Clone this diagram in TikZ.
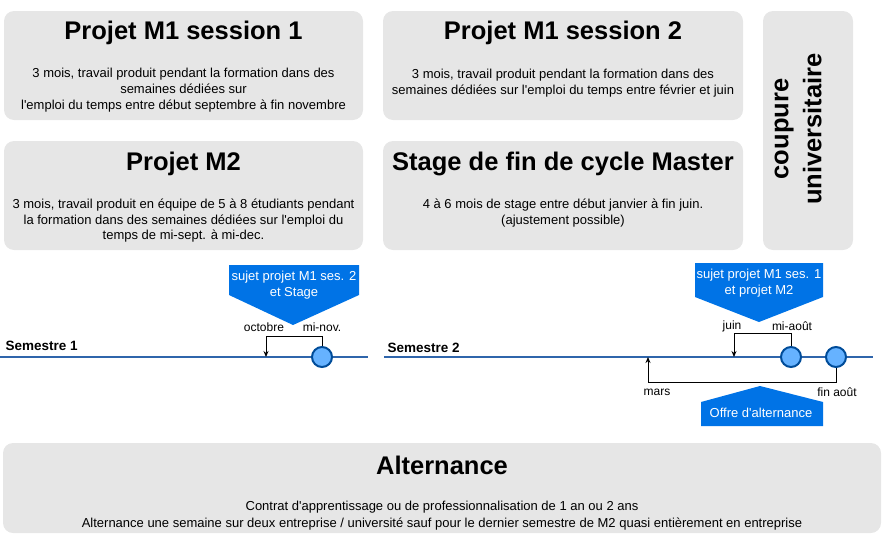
\documentclass[tikz,border=0pt]{standalone}
\usepackage{fontspec}
\setmainfont{Liberation Sans}
\usetikzlibrary{arrows.meta,positioning,calc}
\definecolor{panelgray}{HTML}{E6E6E6}
\definecolor{calloutblue}{HTML}{0073E6}
\definecolor{lineblue}{HTML}{2F65AB}
\definecolor{dotfill}{HTML}{66B2FF}
\definecolor{dotline}{HTML}{004C99}

\begin{document}
\begin{tikzpicture}[
    x=1pt, y=-1pt,
    panel/.style={fill=panelgray, rounded corners=10pt, inner sep=0pt},
    title/.style={font=\bfseries\fontsize{25.5}{30}\selectfont},
    body/.style={align=center, font=\fontsize{13}{15.7}\selectfont},
    callout/.style={fill=calloutblue},
    callouttext/.style={align=center, text=white, font=\fontsize{13}{16}\selectfont},
    month/.style={font=\fontsize{12}{14}\selectfont},
    semester/.style={anchor=west, font=\bfseries\fontsize{13.5}{16}\selectfont},
    timeline/.style={draw=lineblue, line width=1.5pt},
    dot/.style={circle, draw=dotline, fill=dotfill, line width=2pt, minimum size=20pt, inner sep=0pt},
    link/.style={-{Stealth[length=6pt,width=5pt]}, line width=0.9pt}
]
  \useasboundingbox (0,0) rectangle (884,536);

  % Panels
  \node[panel, minimum width=359, minimum height=109] (m1s1) at (183.5,65.5) {};
  \node[panel, minimum width=359, minimum height=109] (m2) at (183.5,195.5) {};
  \node[panel, minimum width=360, minimum height=109] (m1s2) at (563,65.5) {};
  \node[panel, minimum width=360, minimum height=109] (stage) at (563,195.5) {};
  \node[panel, minimum width=90, minimum height=239] (coupure) at (808,130.5) {};
  \node[panel, minimum width=878, minimum height=90] (alt) at (442,488) {};

  % Panel texts
  \node[title] (m1s1title) at ($(m1s1.north)+(0,22)$) {Projet M1 session 1};
  \node[body] (m1s1text) at ($(m1s1.north)+(0,79.5)$) {3 mois, travail produit pendant la formation dans des\\semaines dédiées sur\\l\textquotesingle emploi du temps entre début septembre à fin novembre};
  \node[title] (m2title) at ($(m2.north)+(0,23)$) {Projet M2};
  \node[body] (m2text) at ($(m2.north)+(0,80)$) {3 mois, travail produit en équipe de 5 à 8 étudiants pendant\\la formation dans des semaines dédiées sur l\textquotesingle emploi du\\temps de mi-sept. à mi-dec.};
  \node[title] (m1s2title) at ($(m1s2.north)+(0,22)$) {Projet M1 session 2};
  \node[body] (m1s2text) at ($(m1s2.north)+(0,72)$) {3 mois, travail produit pendant la formation dans des\\semaines dédiées sur l\textquotesingle emploi du temps entre février et juin};
  \node[title] (stagetitle) at ($(stage.north)+(0,23)$) {Stage de fin de cycle Master};
  \node[body] (stagetext) at ($(stage.north)+(0,72)$) {4 à 6 mois de stage entre début janvier à fin juin.\\(ajustement possible)};
  \node[title, rotate=90, align=center, font=\bfseries\fontsize{25.5}{33}\selectfont] (coupuretext) at (798,129) {coupure\\universitaire};
  \node[title] (alttitle) at ($(alt.north)+(0,23)$) {Alternance};
  \node[body, font=\fontsize{13}{17}\selectfont] (alttext) at ($(alt.north)+(0,72.5)$) {Contrat d\textquotesingle apprentissage ou de professionnalisation de 1 an ou 2 ans\\Alternance une semaine sur deux entreprise / université sauf pour le dernier semestre de M2 quasi entièrement en entreprise};

  % Semestre 1
  \node[semester] (sem1) at (2,346) {Semestre 1};
  \draw[timeline] (0,357) -- (368,357);
  \coordinate (oct) at (266,357);
  \node[dot] (minov) at (322,357) {};
  \draw[link] (minov.north) -- ++(0,-10) -| (oct);
  \node[month] (octlabel) at (264,327) {octobre};
  \node[month] (minovlabel) at (322,327) {mi-nov.};
  \fill[callout] (229,265) -- (359,265) -- (359,295) -- (293,325) -- (229,295) -- cycle;
  \node[callouttext] (sujet2) at (294,285) {sujet projet M1 ses. 2\\et Stage};

  % Semestre 2
  \node[semester] (sem2) at (384,348) {Semestre 2};
  \draw[timeline] (384,357) -- (873,357);
  \coordinate (juin) at (734,357);
  \coordinate (mars) at (648,357);
  \node[dot] (miaout) at (791,357) {};
  \node[dot] (finaout) at (836,357) {};
  \draw[link] (miaout.north) -- ++(0,-13) -| (juin);
  \draw[link] (finaout.south) -- ++(0,14) -| (mars);
  \node[month] (juinlabel) at (732,326) {juin};
  \node[month] (miaoutlabel) at (792,326) {mi-août};
  \node[month] (marslabel) at (657,392) {mars};
  \node[month] (finaoutlabel) at (837,392) {fin août};
  \fill[callout] (695,263) -- (823,263) -- (823,297) -- (759,322) -- (695,297) -- cycle;
  \node[callouttext] (sujet1) at (759,283) {sujet projet M1 ses. 1\\et projet M2};
  \fill[callout] (701,426) -- (823,426) -- (823,402) -- (760,386) -- (701,402) -- cycle;
  \node[callouttext] (offre) at (761,413) {Offre d\textquotesingle alternance};
\end{tikzpicture}
\end{document}
